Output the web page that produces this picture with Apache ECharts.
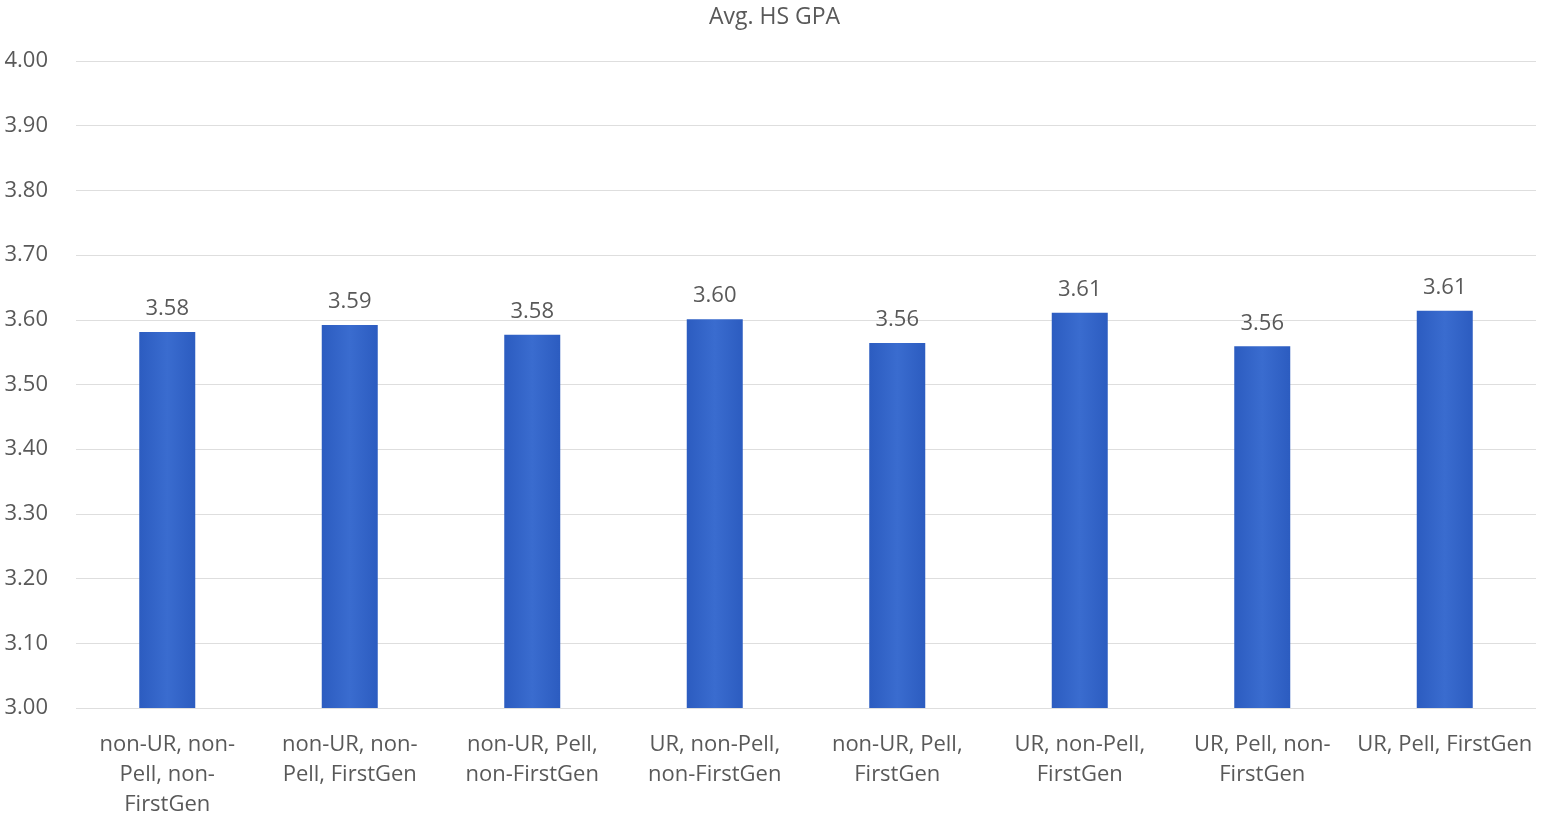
<!DOCTYPE html>
<html>
<head>
<meta charset="utf-8">
<script src="https://cdn.jsdelivr.net/npm/echarts@6/dist/echarts.min.js"></script>
<style>
  html, body { margin: 0; padding: 0; background: #ffffff; }
  #chart { width: 1549px; height: 817px; }
</style>
</head>
<body>
<div id="chart"></div>
<script>
// Student groups (line breaks mark where the axis labels wrap)
const categories = [
  'non-UR, non-\nPell, non-\nFirstGen',
  'non-UR, non-\nPell, FirstGen',
  'non-UR, Pell,\nnon-FirstGen',
  'UR, non-Pell,\nnon-FirstGen',
  'non-UR, Pell,\nFirstGen',
  'UR, non-Pell,\nFirstGen',
  'UR, Pell, non-\nFirstGen',
  'UR, Pell, FirstGen'
];

// Average high-school GPA per group
const avgHsGpa = [3.581, 3.592, 3.577, 3.601, 3.564, 3.611, 3.559, 3.614];

// Value axis range and step
const yMin = 3.0;
const yMax = 4.0;
const yStep = 0.1;

const chart = echarts.init(document.getElementById('chart'));
const textColor = '#595959';
const fontFamily = '"Open Sans", "Liberation Sans", sans-serif';

chart.setOption({
  animation: false,
  backgroundColor: '#ffffff',
  title: {
    text: 'Avg. HS GPA',
    left: 'center',
    top: 1,
    textStyle: { color: textColor, fontSize: 23, fontWeight: 'normal', fontFamily: fontFamily }
  },
  grid: { left: 76, right: 13, top: 61, bottom: 109, outerBoundsMode: 'none', containLabel: false },
  xAxis: {
    type: 'category',
    data: categories,
    axisLine: { show: false },
    axisTick: { show: false },
    axisLabel: {
      color: textColor,
      fontSize: 22,
      fontFamily: fontFamily,
      lineHeight: 30,
      margin: 22,
      interval: 0
    }
  },
  yAxis: {
    type: 'value',
    min: yMin,
    max: yMax,
    interval: yStep,
    axisLine: { show: false },
    axisTick: { show: false },
    axisLabel: {
      color: textColor,
      fontSize: 22,
      fontFamily: fontFamily,
      margin: 28,
      formatter: v => v.toFixed(2)
    },
    splitLine: { lineStyle: { color: '#dedede', width: 1 } }
  },
  series: [{
    type: 'bar',
    data: avgHsGpa,
    barWidth: 56,
    itemStyle: {
      color: new echarts.graphic.LinearGradient(0, 0, 1, 0, [
        { offset: 0, color: '#2c5cc0' },
        { offset: 0.5, color: '#3a6ccf' },
        { offset: 1, color: '#2c5cc0' }
      ])
    },
    label: {
      show: true,
      position: 'top',
      distance: 12,
      color: textColor,
      fontSize: 22,
      fontFamily: fontFamily,
      formatter: p => p.value.toFixed(2)
    }
  }]
});
</script>
</body>
</html>
